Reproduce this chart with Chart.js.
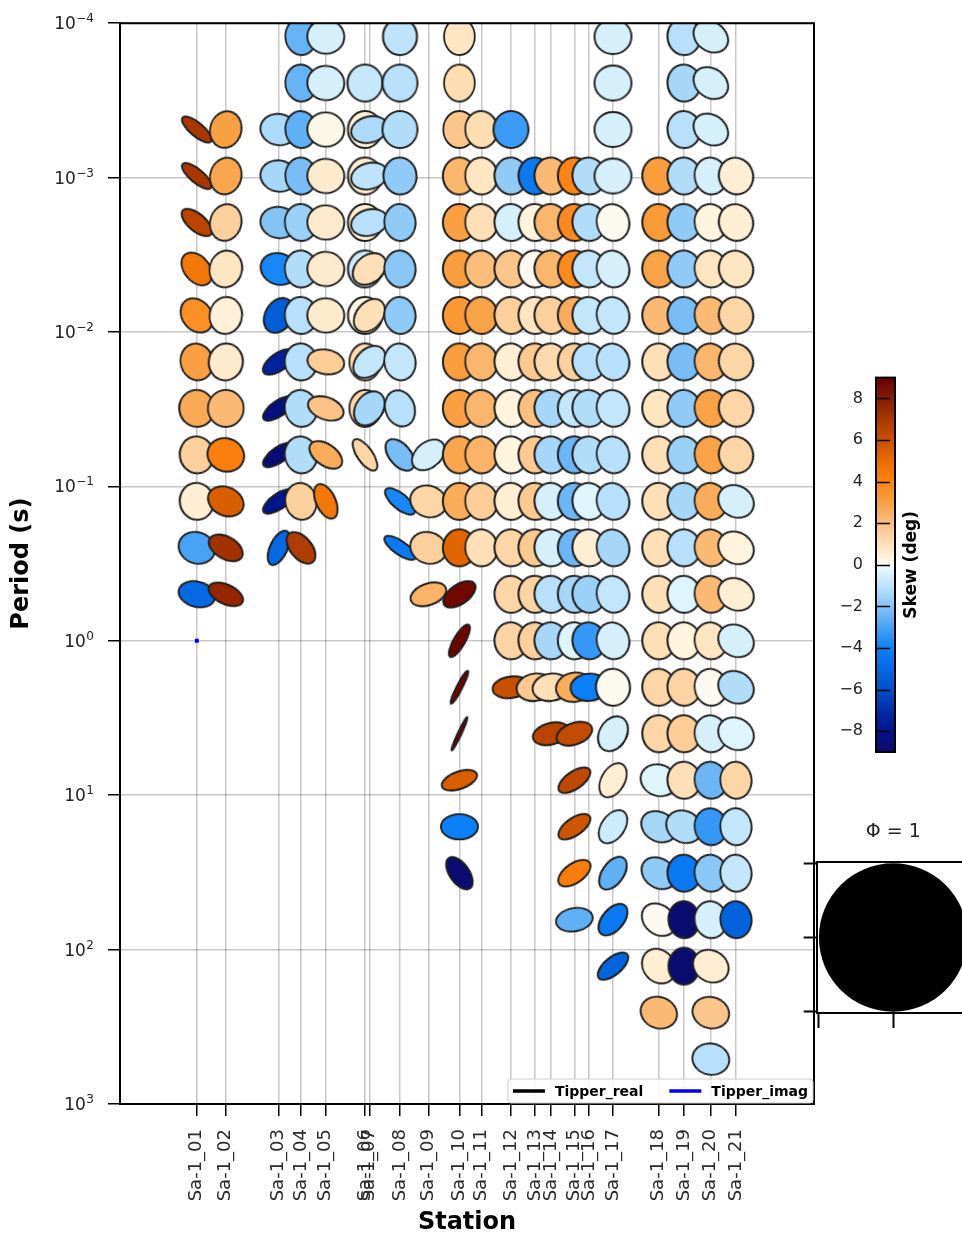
<!DOCTYPE html>
<html><head><meta charset="utf-8">
<script src="https://cdn.jsdelivr.net/npm/chart.js@4.4.0/dist/chart.umd.min.js"></script>
<style>
html,body{margin:0;padding:0;background:#fff;overflow:hidden;width:962px;height:1235px;}
#wrap{position:relative;width:962px;height:1235px;overflow:hidden;}
canvas{position:absolute;}
</style></head><body>
<div id="wrap">
<canvas id="main" width="962" height="1235" style="left:0;top:0"></canvas>
<canvas id="cbar" width="132" height="420" style="left:830px;top:355px"></canvas>
<canvas id="phi" width="230" height="250" style="left:760px;top:800px"></canvas>
</div>
<script>
const _ = null;
// ---------- categories / axes ----------
const stationNames = ['Sa-1_01','Sa-1_02','Sa-1_03','Sa-1_04','Sa-1_05','Sa-1_06','Sa-1_07','Sa-1_08','Sa-1_09','Sa-1_10','Sa-1_11','Sa-1_12','Sa-1_13','Sa-1_14','Sa-1_15','Sa-1_16','Sa-1_17','Sa-1_18','Sa-1_19','Sa-1_20','Sa-1_21'];
const stationPos = [3.84,5.29,7.94,9.05,10.29,12.25,12.47,14.0,15.42,16.97,18.07,19.55,20.75,21.55,22.72,23.45,24.65,26.94,28.2,29.54,30.8];
const periods = [0.0001220703125,0.000244140625,0.00048828125,0.0009765625,0.001953125,0.00390625,0.0078125,0.015625,0.03125,0.0625,0.125,0.25,0.5,1,2,4,8,16,32,64,128,256,512];
const periodTicks = [1e-4,1e-3,1e-2,1e-1,1e0,1e1,1e2,1e3];
const skewTicks = [-8,-6,-4,-2,0,2,4,6,8];

// ---------- skew (deg), per station, one entry per period ----------
const skew01 = [_,_,7.0,7.0,6.5,4.5,3.6,3.0,2.7,1.5,0.5,-3.0,-5.0,_,_,_,_,_,_,_,_,_,_];
const skew02 = [_,_,3.0,2.8,1.5,0.8,0.4,0.6,2.2,4.2,5.5,7.2,7.6,_,_,_,_,_,_,_,_,_,_];
const skew03 = [_,_,-1.3,-1.4,-2.0,-3.8,-5.5,-7.5,-8.5,-8.7,-8.0,-5.0,_,_,_,_,_,_,_,_,_,_,_];
const skew04 = [-2.5,-2.5,-2.6,-2.2,-1.6,-1.2,-1.1,-1.1,-1.2,-1.2,1.5,6.8,_,_,_,_,_,_,_,_,_,_,_];
const skew05 = [-0.5,-0.5,0.2,0.6,0.6,0.6,0.6,1.6,1.9,2.6,4.5,_,_,_,_,_,_,_,_,_,_,_,_];
const skew06 = [_,-0.8,0.4,0.5,0.5,-0.7,0.2,1.1,1.3,1.3,_,_,_,_,_,_,_,_,_,_,_,_,_];
const skew07 = [_,_,-1.3,-1.0,-1.1,1.0,1.0,-0.9,-1.4,_,_,_,_,_,_,_,_,_,_,_,_,_,_];
const skew08 = [-1.0,-1.1,-1.2,-1.8,-1.8,-1.9,-1.8,-0.9,-1.1,-2.2,-3.8,-4.2,_,_,_,_,_,_,_,_,_,_,_];
const skew09 = [_,_,_,_,_,_,_,_,_,-0.5,1.3,1.5,2.4,_,_,_,_,_,_,_,_,_,_];
const skew10 = [0.8,1.1,1.8,2.3,3.0,3.1,3.3,3.1,3.0,2.8,2.6,5.2,8.7,8.8,8.8,8.8,5.5,-4.0,-8.8,_,_,_,_];
const skew11 = [_,_,1.1,0.8,1.0,2.1,2.9,2.3,2.3,2.4,1.6,1.0,_,_,_,_,_,_,_,_,_,_,_];
const skew12 = [_,_,-3.2,-1.8,-0.5,1.8,1.5,0.5,0.3,0.3,0.5,1.3,1.3,1.4,6.0,_,_,_,_,_,_,_,_];
const skew13 = [_,_,_,-4.3,0.3,0.1,0.8,1.7,2.0,1.7,1.7,1.7,1.4,1.5,1.7,_,_,_,_,_,_,_,_];
const skew14 = [_,_,_,2.2,2.3,2.3,1.5,1.2,-1.4,-1.4,-0.5,-0.5,-1.1,-1.4,1.0,6.5,_,_,_,_,_,_,_];
const skew15 = [_,_,_,4.0,3.8,3.8,2.6,1.5,-0.9,-2.4,-2.4,-2.4,-1.4,-0.3,2.6,6.2,6.3,5.8,4.3,-2.6,_,_,_];
const skew16 = [_,_,_,-1.2,-1.2,-0.9,-0.9,-1.1,-1.2,-1.2,-0.3,0.5,-1.6,-3.3,-4.0,_,_,_,_,_,_,_,_];
const skew17 = [-0.5,-0.5,-0.5,-0.5,0.1,-0.5,-0.9,-1.1,-0.9,-1.1,-1.1,-1.4,-0.9,-0.5,0.1,-0.5,0.5,-0.7,-2.6,-4.3,-5.2,_,_];
const skew18 = [_,_,_,3.1,3.2,2.9,2.2,1.0,0.8,1.0,1.0,1.0,1.0,1.0,1.3,1.3,-0.3,-1.4,-1.8,0.1,0.5,2.2,_];
const skew19 = [-1.1,-1.4,-1.1,-1.2,-1.8,-1.8,-2.2,-2.2,-1.8,-1.6,-1.4,-1.1,-0.3,0.3,1.4,1.6,1.0,-1.2,-4.3,-8.8,-8.8,_,_];
const skew20 = [-0.5,-0.5,-0.5,-0.5,0.3,0.8,2.2,2.3,2.9,2.9,2.6,2.2,2.2,0.8,0.1,-0.5,-2.4,-3.3,-1.9,-0.5,0.5,1.8,-1.1];
const skew21 = [_,_,_,0.5,0.5,0.8,1.3,1.3,1.3,1.3,-0.5,0.3,0.5,-0.5,-1.2,-0.3,1.3,-0.9,-0.9,-5.3,_,_,_];

// ---------- ellipse axis ratio (phi_min/phi_max) ----------
const ratio01 = [_,_,0.4,0.4,0.5,0.7,0.8,0.88,0.95,0.92,0.92,0.85,0.7,_,_,_,_,_,_,_,_,_,_];
const ratio02 = [_,_,0.85,0.85,0.85,0.88,0.88,0.92,0.97,0.9,0.78,0.62,0.55,_,_,_,_,_,_,_,_,_,_];
const ratio03 = [_,_,0.85,0.85,0.85,0.85,0.75,0.5,0.45,0.45,0.45,0.5,_,_,_,_,_,_,_,_,_,_,_];
const ratio04 = [0.85,0.85,0.85,0.85,0.88,0.88,0.88,0.88,0.88,0.88,0.85,0.6,_,_,_,_,_,_,_,_,_,_,_];
const ratio05 = [0.93,0.93,0.93,0.93,0.93,0.93,0.93,0.68,0.62,0.6,0.55,_,_,_,_,_,_,_,_,_,_,_,_];
const ratio06 = [_,0.95,0.92,0.92,0.92,0.92,0.92,0.85,0.85,0.45,_,_,_,_,_,_,_,_,_,_,_,_,_];
const ratio07 = [_,_,0.72,0.72,0.72,0.75,0.72,0.72,0.75,_,_,_,_,_,_,_,_,_,_,_,_,_,_];
const ratio08 = [0.92,0.95,0.95,0.9,0.85,0.85,0.85,0.85,0.8,0.6,0.45,0.4,_,_,_,_,_,_,_,_,_,_,_];
const ratio09 = [_,_,_,_,_,_,_,_,_,0.7,0.85,0.85,0.6,_,_,_,_,_,_,_,_,_,_];
const ratio10 = [0.84,0.84,0.88,0.9,0.9,0.9,0.9,0.9,0.9,0.9,0.9,0.9,0.55,0.35,0.2,0.15,0.5,0.7,0.55,_,_,_,_];
const ratio11 = [_,_,0.88,0.88,0.88,0.88,0.88,0.88,0.88,0.88,0.88,0.88,_,_,_,_,_,_,_,_,_,_,_];
const ratio12 = [_,_,0.95,0.9,0.9,0.9,0.9,0.9,0.9,0.9,0.9,0.9,0.9,0.9,0.6,_,_,_,_,_,_,_,_];
const ratio13 = [_,_,_,0.9,0.9,0.9,0.9,0.9,0.9,0.9,0.9,0.9,0.9,0.9,0.75,_,_,_,_,_,_,_,_];
const ratio14 = [_,_,_,0.9,0.9,0.9,0.9,0.9,0.9,0.9,0.9,0.9,0.9,0.9,0.75,0.6,_,_,_,_,_,_,_];
const ratio15 = [_,_,_,0.9,0.9,0.9,0.9,0.9,0.9,0.9,0.9,0.9,0.9,0.9,0.8,0.6,0.5,0.5,0.55,0.65,_,_,_];
const ratio16 = [_,_,_,0.9,0.9,0.9,0.9,0.9,0.9,0.9,0.9,0.9,0.9,0.9,0.75,_,_,_,_,_,_,_,_];
const ratio17 = [0.95,0.95,0.95,0.95,0.88,0.88,0.88,0.88,0.88,0.88,0.88,0.88,0.88,0.88,0.92,0.75,0.65,0.65,0.6,0.6,0.5,_,_];
const ratio18 = [_,_,_,0.9,0.9,0.9,0.9,0.9,0.9,0.9,0.9,0.9,0.9,0.9,0.9,0.9,0.85,0.8,0.8,0.8,0.85,0.85,_];
const ratio19 = [0.9,0.9,0.9,0.9,0.9,0.9,0.9,0.9,0.9,0.9,0.9,0.9,0.9,0.9,0.9,0.9,0.9,0.85,0.9,0.85,0.85,_,_];
const ratio20 = [0.8,0.8,0.8,0.88,0.88,0.88,0.88,0.88,0.88,0.88,0.88,0.88,0.88,0.88,0.88,0.88,0.88,0.88,0.88,0.88,0.85,0.85,0.85];
const ratio21 = [_,_,_,0.92,0.92,0.92,0.92,0.92,0.92,0.92,0.85,0.85,0.85,0.85,0.85,0.85,0.85,0.85,0.85,0.85,_,_,_];

// ---------- ellipse azimuth (deg, major axis from horizontal, anticlockwise) ----------
const angle01 = [_,_,140,140,140,130,128,105,100,100,100,160,165,_,_,_,_,_,_,_,_,_,_];
const angle02 = [_,_,75,75,75,75,80,80,90,160,155,150,155,_,_,_,_,_,_,_,_,_,_];
const angle03 = [_,_,170,170,170,160,60,35,35,35,35,65,_,_,_,_,_,_,_,_,_,_,_];
const angle04 = [95,95,95,95,95,95,95,95,100,100,100,130,_,_,_,_,_,_,_,_,_,_,_];
const angle05 = [175,175,175,175,175,175,175,170,160,145,115,_,_,_,_,_,_,_,_,_,_,_,_];
const angle06 = [_,90,90,90,90,90,90,90,90,125,_,_,_,_,_,_,_,_,_,_,_,_,_];
const angle07 = [_,_,15,15,15,40,50,45,55,_,_,_,_,_,_,_,_,_,_,_,_,_,_];
const angle08 = [90,90,90,95,95,95,95,100,110,130,140,145,_,_,_,_,_,_,_,_,_,_,_];
const angle09 = [_,_,_,_,_,_,_,_,_,40,160,160,20,_,_,_,_,_,_,_,_,_,_];
const angle10 = [90,90,90,90,90,90,90,90,90,90,90,90,35,60,63,65,20,0,125,_,_,_,_];
const angle11 = [_,_,95,95,95,95,95,95,95,95,95,95,_,_,_,_,_,_,_,_,_,_,_];
const angle12 = [_,_,90,95,95,95,95,95,95,95,95,95,95,95,8,_,_,_,_,_,_,_,_];
const angle13 = [_,_,_,95,95,95,95,95,95,95,95,95,95,95,10,_,_,_,_,_,_,_,_];
const angle14 = [_,_,_,95,95,95,95,95,95,95,95,95,95,95,10,15,_,_,_,_,_,_,_];
const angle15 = [_,_,_,95,95,95,95,95,95,95,95,95,95,95,10,20,35,35,35,10,_,_,_];
const angle16 = [_,_,_,100,100,100,100,100,100,100,100,100,100,100,5,_,_,_,_,_,_,_,_];
const angle17 = [0,0,0,0,105,105,105,105,105,105,105,105,105,105,95,60,60,55,55,50,40,_,_];
const angle18 = [_,_,_,95,95,95,95,95,95,95,95,95,95,95,95,95,160,150,145,140,130,160,_];
const angle19 = [95,95,95,95,95,95,95,95,95,95,95,95,95,95,95,95,95,150,95,95,90,_,_];
const angle20 = [145,145,145,100,100,100,100,100,100,100,100,100,100,100,100,100,100,100,100,100,150,165,170];
const angle21 = [_,_,_,110,110,110,110,110,110,110,150,150,150,150,150,150,95,95,95,95,_,_,_];

const skewAll = [skew01,skew02,skew03,skew04,skew05,skew06,skew07,skew08,skew09,skew10,skew11,skew12,skew13,skew14,skew15,skew16,skew17,skew18,skew19,skew20,skew21];
const ratioAll = [ratio01,ratio02,ratio03,ratio04,ratio05,ratio06,ratio07,ratio08,ratio09,ratio10,ratio11,ratio12,ratio13,ratio14,ratio15,ratio16,ratio17,ratio18,ratio19,ratio20,ratio21];
const angleAll = [angle01,angle02,angle03,angle04,angle05,angle06,angle07,angle08,angle09,angle10,angle11,angle12,angle13,angle14,angle15,angle16,angle17,angle18,angle19,angle20,angle21];

// tipper markers (station index, period)
const tipperRealPts = [];
const tipperImagPts = [[0, 1]];

// ---------- colour map ----------
const cmapStops = [
  [-9,[12,10,105]],[-8,[0,20,140]],[-7,[0,45,168]],[-6,[0,80,200]],[-5,[5,105,228]],
  [-4,[12,128,248]],[-3,[72,162,245]],[-2,[132,196,245]],[-1,[190,227,250]],[-0.3,[222,245,252]],
  [0,[250,252,250]],[0.3,[255,244,222]],[1,[253,224,184]],[2,[251,192,128]],[3,[248,160,66]],
  [4,[255,132,18]],[5,[232,108,0]],[6,[200,80,0]],[7,[168,56,0]],[8,[136,26,0]],[9,[100,0,0]]
];
function skewColor(v){
  v = Math.max(-9, Math.min(9, v));
  for (let i = 1; i < cmapStops.length; i++){
    const [v1,c1] = cmapStops[i-1], [v2,c2] = cmapStops[i];
    if (v <= v2){
      const t = (v - v1)/(v2 - v1);
      return 'rgb(' + c1.map((c,k)=>Math.round(c + (c2[k]-c)*t)).join(',') + ')';
    }
  }
  return 'rgb(100,0,0)';
}

const FONT = "'DejaVu Sans', sans-serif";
const ELL_MAJOR = 39;
const imgCache = {};
function ellipseImage(skew, ratio){
  const key = skew + '_' + ratio;
  if (imgCache[key]) return imgCache[key];
  const D = ELL_MAJOR + 4;
  const c = document.createElement('canvas');
  c.width = D; c.height = D;
  const g = c.getContext('2d');
  g.beginPath();
  g.ellipse(D/2, D/2, ELL_MAJOR/2 - 1, Math.max(1.5, ELL_MAJOR*ratio/2 - 1), 0, 0, Math.PI*2);
  g.fillStyle = skewColor(skew);
  g.fill();
  g.lineWidth = 1.9;
  g.strokeStyle = '#1e1e1e';
  g.stroke();
  imgCache[key] = c;
  return c;
}

const datasets = [];
stationNames.forEach((name, i) => {
  const pts = [];
  skewAll[i].forEach((s, r) => {
    if (s === null) return;
    pts.push({x: stationPos[i], y: periods[r], skew: s, ratio: ratioAll[i][r], angle: angleAll[i][r]});
  });
  datasets.push({
    label: name, data: pts, order: 30 - i, clip: 0,
    pointStyle: c => ellipseImage(c.raw.skew, c.raw.ratio),
    rotation: c => -c.raw.angle,
    pointRadius: 5
  });
});
datasets.push({label: 'Tipper_real', data: tipperRealPts.map(p => ({x: stationPos[p[0]], y: p[1]})),
  borderColor: '#000', backgroundColor: '#000', pointStyle: 'rect', pointRadius: 3, order: 0, clip: 0, showLine: false});
datasets.push({label: 'Tipper_imag', data: tipperImagPts.map(p => ({x: stationPos[p[0]], y: p[1]})),
  borderColor: '#0000ff', backgroundColor: '#0000ff', pointStyle: 'rect', pointRadius: 2.8, borderWidth: 0, order: 0, clip: 0, showLine: false});

const framePlugin = {
  id: 'frame',
  afterDraw(chart){
    const {ctx, chartArea: a} = chart;
    ctx.save();
    // top and right spines
    ctx.strokeStyle = '#000'; ctx.lineWidth = 2;
    ctx.beginPath();
    ctx.moveTo(a.left - 1, a.top); ctx.lineTo(a.right, a.top); ctx.lineTo(a.right, a.bottom + 1);
    ctx.stroke();
    // y tick labels as 10^n with raised exponent
    const ys = chart.scales.y;
    const xr = a.left - 12 - 14;
    ctx.fillStyle = '#222'; ctx.textAlign = 'right'; ctx.textBaseline = 'alphabetic';
    periodTicks.forEach(v => {
      const p = ys.getPixelForValue(v);
      const e = Math.round(Math.log10(v));
      const expTxt = e < 0 ? '\u2212' + Math.abs(e) : String(e);
      ctx.font = '12px ' + FONT;
      const ew = ctx.measureText(expTxt).width;
      ctx.fillText(expTxt, xr, p - 1);
      ctx.font = '17px ' + FONT;
      ctx.fillText('10', xr - ew - 0.5, p + 6);
    });
    // legend (inside, bottom right)
    const items = chart.data.datasets.filter(d => d.label.startsWith('Tipper'));
    ctx.font = 'bold 14px ' + FONT;
    const lineLen = 32, gapLT = 10, gapItems = 26, padX = 5;
    let w = padX;
    items.forEach((d, k) => { w += lineLen + gapLT + ctx.measureText(d.label).width + (k < items.length - 1 ? gapItems : padX); });
    const h = 24;
    const bx = a.right - 1 - w, by = a.bottom - 1 - h;
    ctx.fillStyle = 'rgba(255,255,255,0.85)';
    ctx.strokeStyle = '#cccccc'; ctx.lineWidth = 1;
    ctx.beginPath(); ctx.roundRect(bx, by, w, h, 3); ctx.fill(); ctx.stroke();
    let x = bx + padX;
    const ym = by + h/2;
    items.forEach(d => {
      ctx.strokeStyle = d.borderColor; ctx.lineWidth = 3.5;
      ctx.beginPath(); ctx.moveTo(x, ym); ctx.lineTo(x + lineLen, ym); ctx.stroke();
      x += lineLen + gapLT;
      ctx.fillStyle = '#000'; ctx.textBaseline = 'middle'; ctx.textAlign = 'left';
      ctx.fillText(d.label, x, ym + 1);
      x += ctx.measureText(d.label).width + gapItems;
    });
    ctx.restore();
  }
};

new Chart(document.getElementById('main'), {
  type: 'scatter',
  data: {datasets},
  options: {
    responsive: false, animation: false, events: [],
    layout: {padding: {left: 10, top: 22, right: 148, bottom: 0}},
    plugins: {legend: {display: false}, tooltip: {enabled: false}},
    scales: {
      x: {
        type: 'linear', min: 0, max: 34.7,
        afterBuildTicks: s => { s.ticks = stationPos.map(v => ({value: v})); },
        afterFit: s => { s.height = 131; },
        ticks: {autoSkip: false, maxRotation: 90, minRotation: 90, padding: 13,
          font: {family: FONT, size: 18}, color: '#2a2a2a', callback: (v, i) => stationNames[i]},
        grid: {color: 'rgba(0,0,0,0.22)', lineWidth: 1.5, tickColor: '#000', tickLength: 12, tickWidth: 1.5},
        border: {color: '#000', width: 2},
        title: {display: true, text: 'Station', color: '#000', padding: {top: 0, bottom: 0},
          font: {family: FONT, size: 24, weight: 'bold', lineHeight: 1}}
      },
      y: {
        type: 'logarithmic', reverse: true, min: 1e-4, max: 1e3,
        afterBuildTicks: s => { s.ticks = periodTicks.map(v => ({value: v})); },
        afterFit: s => { s.width = 110; },
        ticks: {autoSkip: false, padding: 13, font: {family: FONT, size: 17}, color: '#222',
          callback: () => ''},
        grid: {color: 'rgba(0,0,0,0.22)', lineWidth: 1.5, tickColor: '#000', tickLength: 12, tickWidth: 1.5},
        border: {color: '#000', width: 2},
        title: {display: true, text: 'Period (s)', color: '#000', padding: {top: 0, bottom: 0},
          font: {family: FONT, size: 24, weight: 'bold', lineHeight: 1}}
      }
    }
  },
  plugins: [framePlugin]
});

// ---------- colour bar ----------
const cbarPlugin = {
  id: 'cbar',
  beforeDatasetsDraw(chart){
    const {ctx, chartArea: a, scales: {y}} = chart;
    const y0 = y.getPixelForValue(-9), y1 = y.getPixelForValue(9);
    const grad = ctx.createLinearGradient(0, y0, 0, y1);
    cmapStops.forEach(([v]) => grad.addColorStop((v + 9)/18, skewColor(v)));
    ctx.save();
    ctx.fillStyle = grad;
    ctx.fillRect(a.left, a.top, a.right - a.left, a.bottom - a.top);
    ctx.strokeStyle = '#000'; ctx.lineWidth = 1.5;
    skewTicks.forEach(v => {
      const p = Math.round(y.getPixelForValue(v)) + 0.5;
      ctx.beginPath(); ctx.moveTo(a.left, p); ctx.lineTo(a.left + 14, p); ctx.stroke();
    });
    ctx.strokeStyle = '#000'; ctx.lineWidth = 2;
    ctx.strokeRect(a.left, a.top, a.right - a.left, a.bottom - a.top);
    ctx.translate(a.right + 17, (a.top + a.bottom)/2);
    ctx.rotate(-Math.PI/2);
    ctx.font = 'bold 17px ' + FONT; ctx.fillStyle = '#000';
    ctx.textAlign = 'center'; ctx.textBaseline = 'middle';
    ctx.fillText('Skew (deg)', 0, 0);
    ctx.restore();
  }
};
new Chart(document.getElementById('cbar'), {
  type: 'scatter',
  data: {datasets: [{data: []}]},
  options: {
    responsive: false, animation: false, events: [],
    layout: {padding: {top: 20, bottom: 23, left: 0, right: 67}},
    plugins: {legend: {display: false}, tooltip: {enabled: false}},
    scales: {
      x: {display: false, min: 0, max: 1},
      y: {min: -9, max: 9, position: 'left',
        afterBuildTicks: s => { s.ticks = skewTicks.map(v => ({value: v})); },
        afterFit: s => { s.width = 46; },
        grid: {display: false, drawTicks: false}, border: {display: false},
        ticks: {padding: 13, font: {family: FONT, size: 16}, color: '#222',
          callback: v => (v < 0 ? '\u2212' + Math.abs(v) : String(v))}}
    }
  },
  plugins: [cbarPlugin]
});

// ---------- phase tensor reference (Phi = 1) ----------
const phiRefCircle = [{x: 0, y: 0}];
const phiTicks = [-1, 0, 1];
const phiPlugin = {
  id: 'phiBox',
  afterDraw(chart){
    const {ctx, chartArea: a} = chart;
    ctx.save();
    ctx.strokeStyle = '#000'; ctx.lineWidth = 2;
    ctx.beginPath();
    ctx.moveTo(a.left - 1, a.top); ctx.lineTo(a.right, a.top); ctx.lineTo(a.right, a.bottom + 1);
    ctx.stroke();
    ctx.font = '19px ' + FONT; ctx.fillStyle = '#222';
    ctx.textAlign = 'center'; ctx.textBaseline = 'middle';
    ctx.fillText('\u03A6 = 1', chart.scales.x.getPixelForValue(0), a.top - 30);
    ctx.restore();
  }
};
const phiAxis = (len) => ({
  afterBuildTicks: s => { s.ticks = phiTicks.map(v => ({value: v})); },
  ticks: {callback: () => '', padding: 0},
  grid: {drawOnChartArea: false, tickLength: len, tickColor: '#000', tickWidth: 2},
  border: {color: '#000', width: 2}
});
new Chart(document.getElementById('phi'), {
  type: 'scatter',
  data: {datasets: [{data: phiRefCircle, backgroundColor: '#000', borderWidth: 0, clip: 0,
    pointRadius: c => { const s = c.chart.scales.x; return Math.abs(s.getPixelForValue(1) - s.getPixelForValue(0)); }}]},
  options: {
    responsive: false, animation: false, events: [],
    layout: {padding: {top: 62, right: 20.3, bottom: 0, left: 0}},
    plugins: {legend: {display: false}, tooltip: {enabled: false}},
    scales: {
      x: Object.assign({min: -1.03, max: 1.03, afterFit: s => { s.height = 37; }}, phiAxis(15)),
      y: Object.assign({min: -1.02, max: 1.02, afterFit: s => { s.width = 56.7; }}, phiAxis(13))
    }
  },
  plugins: [phiPlugin]
});
</script>
</body></html>
